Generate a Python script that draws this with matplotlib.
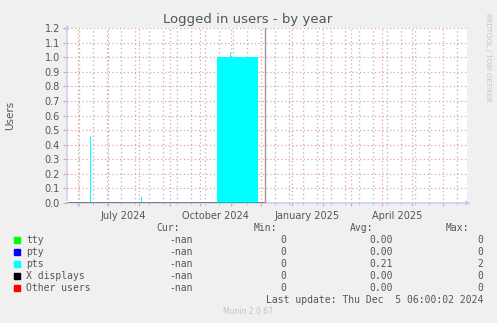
import pandas as pd
import matplotlib
matplotlib.use('Agg')
import matplotlib.pyplot as plt
import matplotlib.dates as mdates
from matplotlib.patches import Rectangle

W, H = 497, 323

# time window of the year graph
x_start = pd.Timestamp('2024-05-20 12:00')
x_end = pd.Timestamp('2025-06-25 06:00')
last_update = pd.Timestamp('2024-12-05 06:00')

# pts values (step series, value holds until next date)
pts_dates = pd.to_datetime(['2024-05-20 12:00', '2024-06-13 00:00', '2024-06-14 00:00',
                            '2024-08-03 00:00', '2024-08-04 00:00', '2024-10-17 12:00',
                            '2024-10-31 00:00', '2024-11-01 00:00', '2024-11-27 18:00',
                            '2024-12-05 06:00'])
pts_values = [0, 0.46, 0, 0.04, 0, 1.0, 1.03, 1.0, 0, 0]

# the other series are flat zero up to the last update
zero_dates = pd.to_datetime(['2024-05-20 12:00', '2024-12-05 06:00'])
zero_values = [0, 0]

series = ['tty', 'pty', 'pts', 'X displays', 'Other users']
colors = ['#00ff00', '#0000ff', '#00ffff', '#000000', '#ff0000']
cur_vals = ['-nan', '-nan', '-nan', '-nan', '-nan']
min_vals = ['0', '0', '0', '0', '0']
avg_vals = ['0.00', '0.00', '0.21', '0.00', '0.00']
max_vals = ['0', '0', '2', '0', '0']

y_ticks = [0.0, 0.1, 0.2, 0.3, 0.4, 0.5, 0.6, 0.7, 0.8, 0.9, 1.0, 1.1, 1.2]
x_labels = ['July 2024', 'October 2024', 'January 2025', 'April 2025']
x_label_dates = pd.to_datetime(['2024-07-16', '2024-10-16', '2025-01-16', '2025-04-16'])

txt = '#555555'
red_grid = '#e6a0a0'
gray_grid = '#bcbcbc'
axis_col = '#c8c8f0'

fig = plt.figure(figsize=(W / 100, H / 100), dpi=100, facecolor='#f0f0f0')
ax = fig.add_axes([67 / W, 1 - 203 / H, 400 / W, 175 / H])
ax.set_facecolor('white')

# zero lines drawn first for tty / pty
ax.step(zero_dates, zero_values, where='post', color=colors[0], lw=1, zorder=3)
ax.step(zero_dates, zero_values, where='post', color=colors[1], lw=1, zorder=3)
ax.fill_between(pts_dates, pts_values, step='post', color=colors[2], lw=0, zorder=3)
ax.step(zero_dates, zero_values, where='post', color=colors[3], lw=1, zorder=3)
ax.step(zero_dates, zero_values, where='post', color=colors[4], lw=1, alpha=0.6, zorder=3)

ax.axvline(last_update, color='#999999', lw=1, zorder=3)

ax.set_xlim(x_start, x_end)
ax.set_ylim(0, 1.2)
ax.set_yticks(y_ticks)
ax.set_yticklabels([f'{v:.1f}' for v in y_ticks])

ax.xaxis.set_major_locator(mdates.MonthLocator())
ax.set_xticks(pd.date_range('2024-06-02', '2025-06-25', freq='14D'), minor=True)
ax.xaxis.set_major_formatter(plt.NullFormatter())
ax.xaxis.set_minor_formatter(plt.NullFormatter())

ax.grid(which='minor', axis='x', color=gray_grid, ls=(0, (1, 2)), lw=1)
ax.grid(which='major', axis='x', color=red_grid, ls=(0, (1, 2)), lw=0.9)
ax.grid(which='major', axis='y', color=red_grid, ls=(0, (1, 2)), lw=0.9)
ax.set_axisbelow(True)

ax.tick_params(axis='y', length=3, color=red_grid, labelsize=7, labelcolor=txt, pad=2)
ax.tick_params(axis='x', which='major', length=2, color=red_grid)
ax.tick_params(axis='x', which='minor', length=1.5, color=gray_grid)

for d, lab in zip(x_label_dates, x_labels):
    ax.text(d, -0.045, lab, transform=ax.get_xaxis_transform(), ha='center', va='top',
            fontsize=7, color=txt)

for s in ax.spines.values():
    s.set_visible(False)
ax.annotate('', xy=(0, 1.036), xytext=(0, 0), xycoords='axes fraction', zorder=1,
            arrowprops=dict(arrowstyle='-|>', color=axis_col, lw=1, mutation_scale=6))
ax.annotate('', xy=(1.016, 0), xytext=(0, 0), xycoords='axes fraction', zorder=1,
            arrowprops=dict(arrowstyle='-|>', color=axis_col, lw=1, mutation_scale=6))

def fx(x):
    return x / W

def fy(y):
    return 1 - y / H

fig.text(fx(248), fy(19), 'Logged in users - by year', ha='center', va='center',
         fontsize=9.5, color=txt)
fig.text(fx(10), fy(115), 'Users', ha='center', va='center', rotation=90,
         fontsize=7.5, color=txt)
fig.text(fx(488), fy(57), 'RRDTOOL / TOBI OETIKER', ha='center', va='center',
         rotation=270, fontsize=5, color='#c4c4c4')

mono = dict(family='DejaVu Sans Mono', fontsize=7, color=txt, va='center')
fig.text(fx(180), fy(228), 'Cur:', ha='right', **mono)
fig.text(fx(277), fy(228), 'Min:', ha='right', **mono)
fig.text(fx(373), fy(228), 'Avg:', ha='right', **mono)
fig.text(fx(469), fy(228), 'Max:', ha='right', **mono)

for i, name in enumerate(series):
    y = 240 + 12 * i
    fig.patches.append(Rectangle((fx(14), fy(y + 3)), 6 / W, 6 / H,
                                 transform=fig.transFigure, color=colors[i]))
    fig.text(fx(26), fy(y), name, ha='left', **mono)
    fig.text(fx(193), fy(y), cur_vals[i], ha='right', **mono)
    fig.text(fx(286), fy(y), min_vals[i], ha='right', **mono)
    fig.text(fx(393), fy(y), avg_vals[i], ha='right', **mono)
    fig.text(fx(483), fy(y), max_vals[i], ha='right', **mono)

fig.text(fx(483), fy(300), 'Last update: Thu Dec  5 06:00:02 2024', ha='right', **mono)
fig.text(fx(248), fy(312), 'Munin 2.0.67', ha='center', va='center',
         fontsize=5.5, color='#c4c4c4')

fig.savefig('out.png', dpi=100, facecolor=fig.get_facecolor())
